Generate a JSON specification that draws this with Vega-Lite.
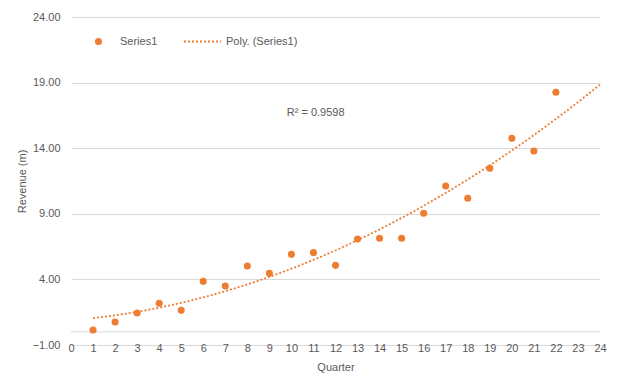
{
  "$schema": "https://vega.github.io/schema/vega-lite/v6.json",
  "width": 529,
  "height": 328,
  "autosize": {"type": "none"},
  "padding": {"left": 71, "top": 17, "right": 22, "bottom": 43},
  "background": "white",
  "config": {
    "view": {"stroke": null},
    "font": "Liberation Sans",
    "axis": {
      "labelColor": "#595959",
      "labelFontSize": 11,
      "titleColor": "#595959",
      "titleFontSize": 11,
      "titleFontWeight": "normal",
      "domain": false,
      "ticks": false,
      "gridColor": "#d9d9d9",
      "gridWidth": 1
    },
    "legend": {
      "labelColor": "#595959",
      "labelFontSize": 11,
      "orient": "none",
      "title": null
    }
  },
  "data": {
    "values": [
      {"quarter": 1, "revenue": 0.14},
      {"quarter": 2, "revenue": 0.75},
      {"quarter": 3, "revenue": 1.44},
      {"quarter": 4, "revenue": 2.18},
      {"quarter": 5, "revenue": 1.64},
      {"quarter": 6, "revenue": 3.85},
      {"quarter": 7, "revenue": 3.5},
      {"quarter": 8, "revenue": 5.02},
      {"quarter": 9, "revenue": 4.46},
      {"quarter": 10, "revenue": 5.91},
      {"quarter": 11, "revenue": 6.04},
      {"quarter": 12, "revenue": 5.07},
      {"quarter": 13, "revenue": 7.08},
      {"quarter": 14, "revenue": 7.13},
      {"quarter": 15, "revenue": 7.13},
      {"quarter": 16, "revenue": 9.04},
      {"quarter": 17, "revenue": 11.12},
      {"quarter": 18, "revenue": 10.18},
      {"quarter": 19, "revenue": 12.47},
      {"quarter": 20, "revenue": 14.75},
      {"quarter": 21, "revenue": 13.79},
      {"quarter": 22, "revenue": 18.26}
    ]
  },
  "encoding": {
    "x": {
      "field": "quarter",
      "type": "quantitative",
      "scale": {"domain": [0, 24], "nice": false, "zero": false},
      "axis": {
        "values": [0,1,2,3,4,5,6,7,8,9,10,11,12,13,14,15,16,17,18,19,20,21,22,23,24],
        "format": "d",
        "grid": false,
        "labelPadding": -3,
        "labelFlush": false,
        "labelBound": false,
        "labelOverlap": false,
        "title": "Quarter",
        "titlePadding": 8
      }
    },
    "y": {
      "field": "revenue",
      "type": "quantitative",
      "scale": {"domain": [-1, 24], "nice": false, "zero": false},
      "axis": {
        "values": [-1, 4, 9, 14, 19, 24],
        "format": ".2f",
        "grid": true,
        "labelPadding": 11,
        "title": "Revenue (m)",
        "titlePadding": 5
      }
    }
  },
  "layer": [
    {
      "data": {"values": [{"quarter": 0, "quarter2": 24, "revenue": 0}]},
      "mark": {"type": "rule", "color": "#d9d9d9", "strokeWidth": 1},
      "encoding": {"x2": {"field": "quarter2"}}
    },
    {
      "transform": [
        {"regression": "revenue", "on": "quarter", "method": "poly", "order": 2, "extent": [1, 24]}
      ],
      "mark": {"type": "line", "color": "#ED7D31", "strokeWidth": 1.8, "strokeDash": [2, 2]},
      "encoding": {
        "strokeDash": {
          "datum": "Poly. (Series1)",
          "scale": {"range": [[2, 2]]},
          "legend": {
            "legendX": 112,
            "legendY": 5,
            "symbolStrokeColor": "#ED7D31",
            "symbolStrokeWidth": 1.8,
            "symbolSize": 1369,
            "symbolType": "stroke"
          }
        }
      }
    },
    {
      "mark": {"type": "circle", "size": 50, "opacity": 1},
      "encoding": {
        "color": {
          "datum": "Series1",
          "scale": {"range": ["#ED7D31"]},
          "legend": {
            "legendX": 22,
            "legendY": 19,
            "symbolSize": 50,
            "symbolType": "circle",
            "symbolOpacity": 1,
            "labelOffset": 16
          }
        }
      }
    },
    {
      "data": {"values": [{"label": "R² = 0.9598", "quarter": 11.1, "revenue": 16.7}]},
      "mark": {"type": "text", "color": "#595959", "fontSize": 11, "font": "Liberation Sans"},
      "encoding": {
        "text": {"field": "label"}
      }
    }
  ]
}
